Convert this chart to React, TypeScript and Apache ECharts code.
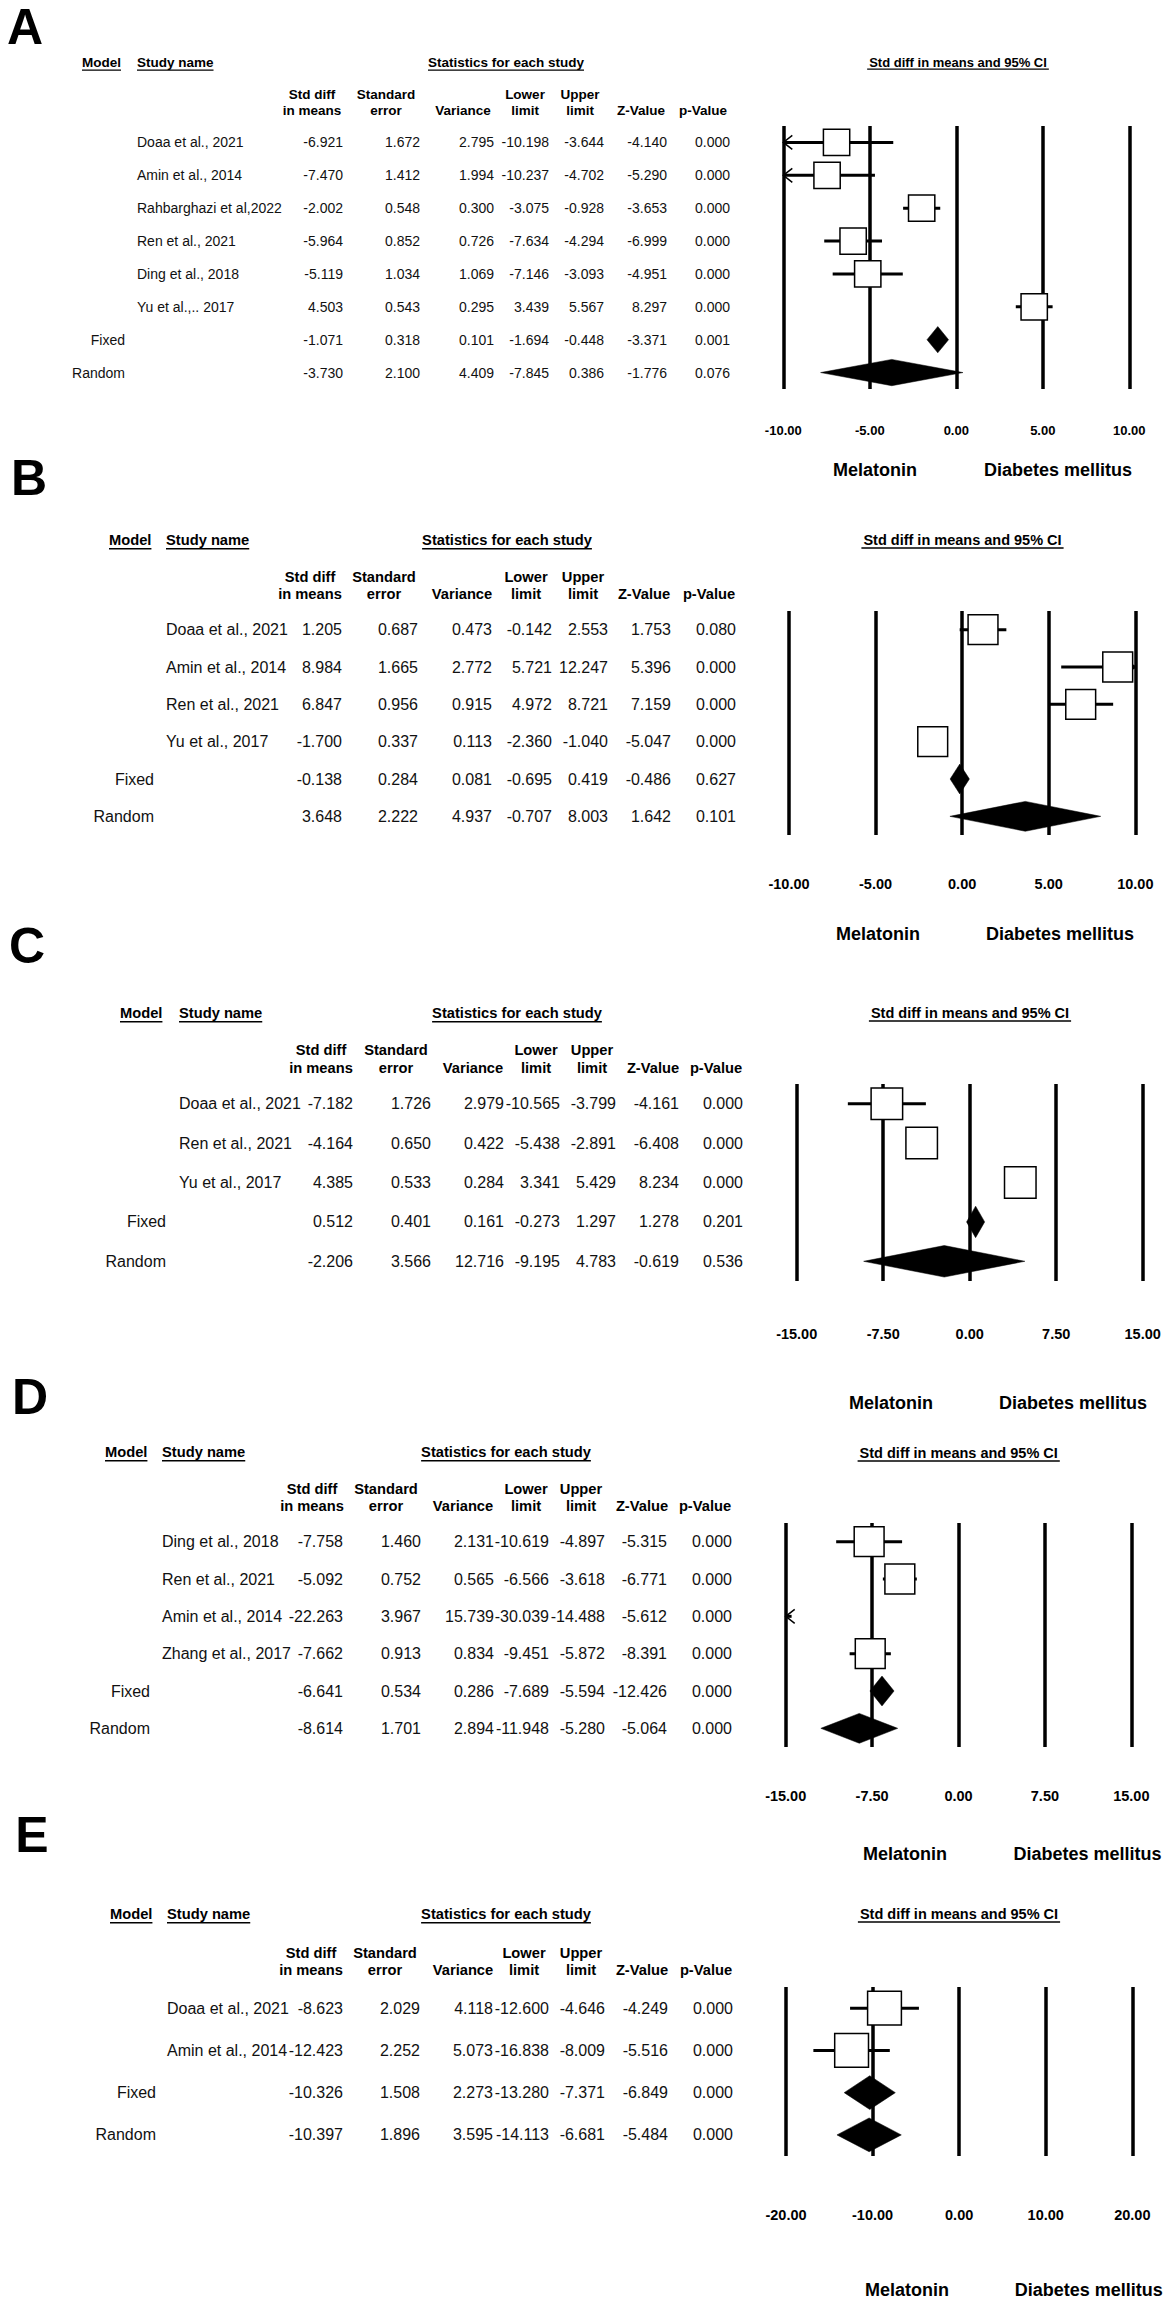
import React, { useEffect, useRef } from "react";
import * as echarts from "echarts";

const FONT = "'Liberation Sans', Arial, Helvetica, sans-serif";

// ---------- Data ----------
const summaryLabels = ["Fixed", "Random"];
const columnHeads1 = ["Std diff", "Standard", "", "Lower", "Upper", "", ""];
const columnHeads2 = ["in means", "error", "Variance", "limit", "limit", "Z-Value", "p-Value"];
const leftLabel = "Melatonin";
const rightLabel = "Diabetes mellitus";
const plotTitle = "Std diff in means and 95% CI";

// Panel A
const studiesA = ["Doaa et al., 2021", "Amin et al., 2014", "Rahbarghazi et al,2022", "Ren et al., 2021", "Ding et al., 2018", "Yu et al.,.. 2017"];
const stdDiffA = [-6.921, -7.47, -2.002, -5.964, -5.119, 4.503, -1.071, -3.73];
const seA = [1.672, 1.412, 0.548, 0.852, 1.034, 0.543, 0.318, 2.1];
const varA = [2.795, 1.994, 0.3, 0.726, 1.069, 0.295, 0.101, 4.409];
const lowerA = [-10.198, -10.237, -3.075, -7.634, -7.146, 3.439, -1.694, -7.845];
const upperA = [-3.644, -4.702, -0.928, -4.294, -3.093, 5.567, -0.448, 0.386];
const zA = [-4.14, -5.29, -3.653, -6.999, -4.951, 8.297, -3.371, -1.776];
const pA = [0, 0, 0, 0, 0, 0, 0.001, 0.076];
const axisA = [-10, 10, 5];

// Panel B
const studiesB = ["Doaa et al., 2021", "Amin et al., 2014", "Ren et al., 2021", "Yu et al., 2017"];
const stdDiffB = [1.205, 8.984, 6.847, -1.7, -0.138, 3.648];
const seB = [0.687, 1.665, 0.956, 0.337, 0.284, 2.222];
const varB = [0.473, 2.772, 0.915, 0.113, 0.081, 4.937];
const lowerB = [-0.142, 5.721, 4.972, -2.36, -0.695, -0.707];
const upperB = [2.553, 12.247, 8.721, -1.04, 0.419, 8.003];
const zB = [1.753, 5.396, 7.159, -5.047, -0.486, 1.642];
const pB = [0.08, 0, 0, 0, 0.627, 0.101];
const axisB = [-10, 10, 5];

// Panel C
const studiesC = ["Doaa et al., 2021", "Ren et al., 2021", "Yu et al., 2017"];
const stdDiffC = [-7.182, -4.164, 4.385, 0.512, -2.206];
const seC = [1.726, 0.65, 0.533, 0.401, 3.566];
const varC = [2.979, 0.422, 0.284, 0.161, 12.716];
const lowerC = [-10.565, -5.438, 3.341, -0.273, -9.195];
const upperC = [-3.799, -2.891, 5.429, 1.297, 4.783];
const zC = [-4.161, -6.408, 8.234, 1.278, -0.619];
const pC = [0, 0, 0, 0.201, 0.536];
const axisC = [-15, 15, 7.5];

// Panel D
const studiesD = ["Ding et al., 2018", "Ren et al., 2021", "Amin et al., 2014", "Zhang et al., 2017"];
const stdDiffD = [-7.758, -5.092, -22.263, -7.662, -6.641, -8.614];
const seD = [1.46, 0.752, 3.967, 0.913, 0.534, 1.701];
const varD = [2.131, 0.565, 15.739, 0.834, 0.286, 2.894];
const lowerD = [-10.619, -6.566, -30.039, -9.451, -7.689, -11.948];
const upperD = [-4.897, -3.618, -14.488, -5.872, -5.594, -5.28];
const zD = [-5.315, -6.771, -5.612, -8.391, -12.426, -5.064];
const pD = [0, 0, 0, 0, 0, 0];
const axisD = [-15, 15, 7.5];

// Panel E
const studiesE = ["Doaa et al., 2021", "Amin et al., 2014"];
const stdDiffE = [-8.623, -12.423, -10.326, -10.397];
const seE = [2.029, 2.252, 1.508, 1.896];
const varE = [4.118, 5.073, 2.273, 3.595];
const lowerE = [-12.6, -16.838, -13.28, -14.113];
const upperE = [-4.646, -8.009, -7.371, -6.681];
const zE = [-4.249, -5.516, -6.849, -5.484];
const pE = [0, 0, 0, 0];
const axisE = [-20, 20, 10];

const panels = [
  { letter: "A", studies: studiesA, cols: [stdDiffA, seA, varA, lowerA, upperA, zA, pA], axis: axisA },
  { letter: "B", studies: studiesB, cols: [stdDiffB, seB, varB, lowerB, upperB, zB, pB], axis: axisB },
  { letter: "C", studies: studiesC, cols: [stdDiffC, seC, varC, lowerC, upperC, zC, pC], axis: axisC },
  { letter: "D", studies: studiesD, cols: [stdDiffD, seD, varD, lowerD, upperD, zD, pD], axis: axisD },
  { letter: "E", studies: studiesE, cols: [stdDiffE, seE, varE, lowerE, upperE, zE, pE], axis: axisE },
];

// ---------- Layout (positions & sizes) ----------
const layouts = [
  { letterX: 25, letterY: 27, headY: 62, colY1: 94, colY2: 110, modelLeft: 82, nameLeft: 137, modelRight: 125,
    valRight: [343, 420, 494, 549, 604, 667, 730], headCenters: [312, 386, 463, 525, 580, 641, 703], statsCenter: 506,
    font: 14, headFont: 13.5, gLeft: 783.3, gRight: 1129.3, gTop: 126, gBottom: 389,
    titleX: 958, titleY: 62, titleFont: 13, tickY: 430, tickFont: 13, melX: 875, diabX: 1058, catY: 470 },
  { letterX: 29, letterY: 478, headY: 540, colY1: 577, colY2: 594, modelLeft: 109, nameLeft: 166, modelRight: 154,
    valRight: [342, 418, 492, 552, 608, 671, 736], headCenters: [310, 384, 462, 526, 583, 644, 709], statsCenter: 507,
    font: 16, headFont: 14.7, gLeft: 789, gRight: 1135.3, gTop: 611, gBottom: 835,
    titleX: 962.5, titleY: 540, titleFont: 14.5, tickY: 884, tickFont: 14.5, melX: 878, diabX: 1060, catY: 934 },
  { letterX: 27, letterY: 946, headY: 1013, colY1: 1050, colY2: 1068, modelLeft: 120, nameLeft: 179, modelRight: 166,
    valRight: [353, 431, 504, 560, 616, 679, 743], headCenters: [321, 396, 473, 536, 592, 653, 716], statsCenter: 517,
    font: 16, headFont: 14.7, gLeft: 796.7, gRight: 1142.7, gTop: 1084, gBottom: 1281,
    titleX: 970, titleY: 1013, titleFont: 14.5, tickY: 1334, tickFont: 14.5, melX: 891, diabX: 1073, catY: 1403 },
  { letterX: 30, letterY: 1397, headY: 1452, colY1: 1489, colY2: 1506, modelLeft: 105, nameLeft: 162, modelRight: 150,
    valRight: [343, 421, 494, 549, 605, 667, 732], headCenters: [312, 386, 463, 526, 581, 642, 705], statsCenter: 506,
    font: 16, headFont: 14.7, gLeft: 785.7, gRight: 1131.3, gTop: 1523, gBottom: 1747,
    titleX: 958.7, titleY: 1453, titleFont: 14.5, tickY: 1796, tickFont: 14.5, melX: 905, diabX: 1087.5, catY: 1854 },
  { letterX: 32, letterY: 1835, headY: 1914, colY1: 1953, colY2: 1970, modelLeft: 110, nameLeft: 167, modelRight: 156,
    valRight: [343, 420, 493, 549, 605, 668, 733], headCenters: [311, 385, 463, 524, 581, 642, 706], statsCenter: 506,
    font: 16, headFont: 14.7, gLeft: 786, gRight: 1132.3, gTop: 1987, gBottom: 2156,
    titleX: 959, titleY: 1914, titleFont: 14.5, tickY: 2215, tickFont: 14.5, melX: 907, diabX: 1088.8, catY: 2290 },
];

let measureCtx: CanvasRenderingContext2D | null = null;
function textWidth(text: string, size: number, bold: boolean) {
  if (!measureCtx) measureCtx = document.createElement("canvas").getContext("2d");
  if (!measureCtx) return text.length * size * 0.55;
  measureCtx.font = `${bold ? "bold " : ""}${size}px 'Liberation Sans', Arial, sans-serif`;
  return measureCtx.measureText(text).width;
}

function txt(text: string, x: number, y: number, size: number, bold: boolean, align: string, color = "#000") {
  return {
    type: "text",
    x,
    y,
    silent: true,
    style: {
      text,
      fontSize: size,
      fontFamily: FONT,
      fontWeight: bold ? "bold" : "normal",
      fill: color,
      textAlign: align,
      textVerticalAlign: "middle",
    },
  };
}

function underline(x1: number, x2: number, y: number) {
  return { type: "line", silent: true, shape: { x1, y1: y, x2, y2: y }, style: { stroke: "#000", lineWidth: 1.4 } };
}

function buildOption() {
  const graphic: any[] = [];
  const grid: any[] = [];
  const xAxis: any[] = [];
  const yAxis: any[] = [];
  const series: any[] = [];

  panels.forEach((p, i) => {
    const L = layouts[i];
    const n = p.cols[0].length;
    const nStudies = p.studies.length;
    const rowY = (k: number) => L.gTop + ((k + 0.5) * (L.gBottom - L.gTop)) / n;
    const [xmin, xmax, xint] = p.axis;

    // panel letter
    graphic.push(txt(p.letter, L.letterX, L.letterY, 50, true, "center"));

    // table headers
    const hf = L.headFont;
    const ulOff = hf * 0.6;
    graphic.push(txt("Model", L.modelLeft, L.headY, hf, true, "left"));
    graphic.push(underline(L.modelLeft, L.modelLeft + textWidth("Model", hf, true), L.headY + ulOff));
    graphic.push(txt("Study name", L.nameLeft, L.headY, hf, true, "left"));
    graphic.push(underline(L.nameLeft, L.nameLeft + textWidth("Study name", hf, true), L.headY + ulOff));
    const stats = "Statistics for each study";
    const sw = textWidth(stats, hf, true);
    graphic.push(txt(stats, L.statsCenter, L.headY, hf, true, "center"));
    graphic.push(underline(L.statsCenter - sw / 2, L.statsCenter + sw / 2, L.headY + ulOff));
    columnHeads1.forEach((h, c) => {
      if (h) graphic.push(txt(h, L.headCenters[c], L.colY1, hf, true, "center"));
    });
    columnHeads2.forEach((h, c) => {
      graphic.push(txt(h, L.headCenters[c], L.colY2, hf, true, "center"));
    });

    // table rows
    for (let k = 0; k < n; k++) {
      const y = rowY(k);
      if (k < nStudies) {
        graphic.push(txt(p.studies[k], L.nameLeft, y, L.font, false, "left", "#111"));
      } else {
        graphic.push(txt(summaryLabels[k - nStudies], L.modelRight, y, L.font, false, "right", "#111"));
      }
      p.cols.forEach((col, c) => {
        graphic.push(txt(col[k].toFixed(3), L.valRight[c], y, L.font, false, "right", "#111"));
      });
    }

    // plot title
    const tw = textWidth(plotTitle, L.titleFont, true);
    graphic.push(txt(plotTitle, L.titleX, L.titleY, L.titleFont, true, "center"));
    graphic.push(underline(L.titleX - tw / 2 - 2, L.titleX + tw / 2 + 2, L.titleY + L.titleFont * 0.55));

    // favours labels
    graphic.push(txt(leftLabel, L.melX, L.catY, 18, true, "center"));
    graphic.push(txt(rightLabel, L.diabX, L.catY, 18, true, "center"));

    grid.push({ left: L.gLeft, width: L.gRight - L.gLeft, top: L.gTop, height: L.gBottom - L.gTop, containLabel: false });
    xAxis.push({
      gridIndex: i,
      type: "value",
      min: xmin,
      max: xmax,
      interval: xint,
      axisLine: { show: false },
      axisTick: { show: false },
      splitLine: { show: true, lineStyle: { color: "#000", width: 3.5, type: "solid" } },
      axisLabel: {
        show: true,
        showMinLabel: true,
        showMaxLabel: true,
        formatter: (v: number) => v.toFixed(2),
        fontFamily: FONT,
        fontWeight: "bold",
        fontSize: L.tickFont,
        color: "#000",
        margin: L.tickY - L.gBottom - L.tickFont / 2,
      },
    });
    yAxis.push({ gridIndex: i, type: "value", min: -0.5, max: n - 0.5, inverse: true, show: false });

    const data = p.cols[0].map((m, k) => [m, p.cols[3][k], p.cols[4][k], k, k < nStudies ? 0 : 1]);
    series.push({
      type: "custom",
      xAxisIndex: i,
      yAxisIndex: i,
      clip: false,
      silent: true,
      encode: { x: [0, 1, 2], y: 3 },
      data,
      renderItem: (params: any, api: any) => {
        const m = api.value(0);
        const lo = api.value(1);
        const hi = api.value(2);
        const r = api.value(3);
        const kind = api.value(4);
        const y = api.coord([0, r])[1];
        const band = Math.abs(api.size([0, 1])[1]);
        const s = band * 0.8;
        const X = (v: number) => api.coord([v, r])[0];
        const children: any[] = [];
        if (kind === 1) {
          children.push({
            type: "polygon",
            shape: { points: [[X(lo), y], [X(m), y - s / 2], [X(hi), y], [X(m), y + s / 2]] },
            style: { fill: "#000", stroke: "#000", lineWidth: 0.5 },
          });
        } else {
          const a = Math.max(lo, xmin);
          const b = Math.min(hi, xmax);
          children.push({ type: "line", shape: { x1: X(a), y1: y, x2: X(b), y2: y }, style: { stroke: "#000", lineWidth: 3 } });
          if (lo < xmin) {
            const x0 = X(xmin);
            children.push({ type: "polyline", shape: { points: [[x0 + 9, y - 7], [x0, y], [x0 + 9, y + 7]] }, style: { stroke: "#000", lineWidth: 1.5, fill: "none" } });
          }
          if (hi > xmax) {
            const x1 = X(xmax);
            children.push({ type: "polyline", shape: { points: [[x1 - 9, y - 7], [x1, y], [x1 - 9, y + 7]] }, style: { stroke: "#000", lineWidth: 1.5, fill: "none" } });
          }
          if (m >= xmin && m <= xmax) {
            children.push({
              type: "rect",
              shape: { x: X(m) - s / 2, y: y - s / 2, width: s, height: s },
              style: { fill: "#fff", stroke: "#000", lineWidth: 1.5 },
            });
          }
        }
        return { type: "group", children };
      },
    });
  });

  return {
    animation: false,
    backgroundColor: "#fff",
    grid,
    xAxis,
    yAxis,
    series,
    graphic: { elements: graphic },
  };
}

export default function App() {
  const ref = useRef<HTMLDivElement>(null);
  useEffect(() => {
    if (!ref.current) return;
    const chart = echarts.init(ref.current, undefined, { renderer: "svg" });
    chart.setOption(buildOption() as any);
    return () => chart.dispose();
  }, []);
  return (
    <div
      ref={ref}
      style={{ position: "absolute", left: 0, top: 0, width: 1166, height: 2302, background: "#fff" }}
    />
  );
}
